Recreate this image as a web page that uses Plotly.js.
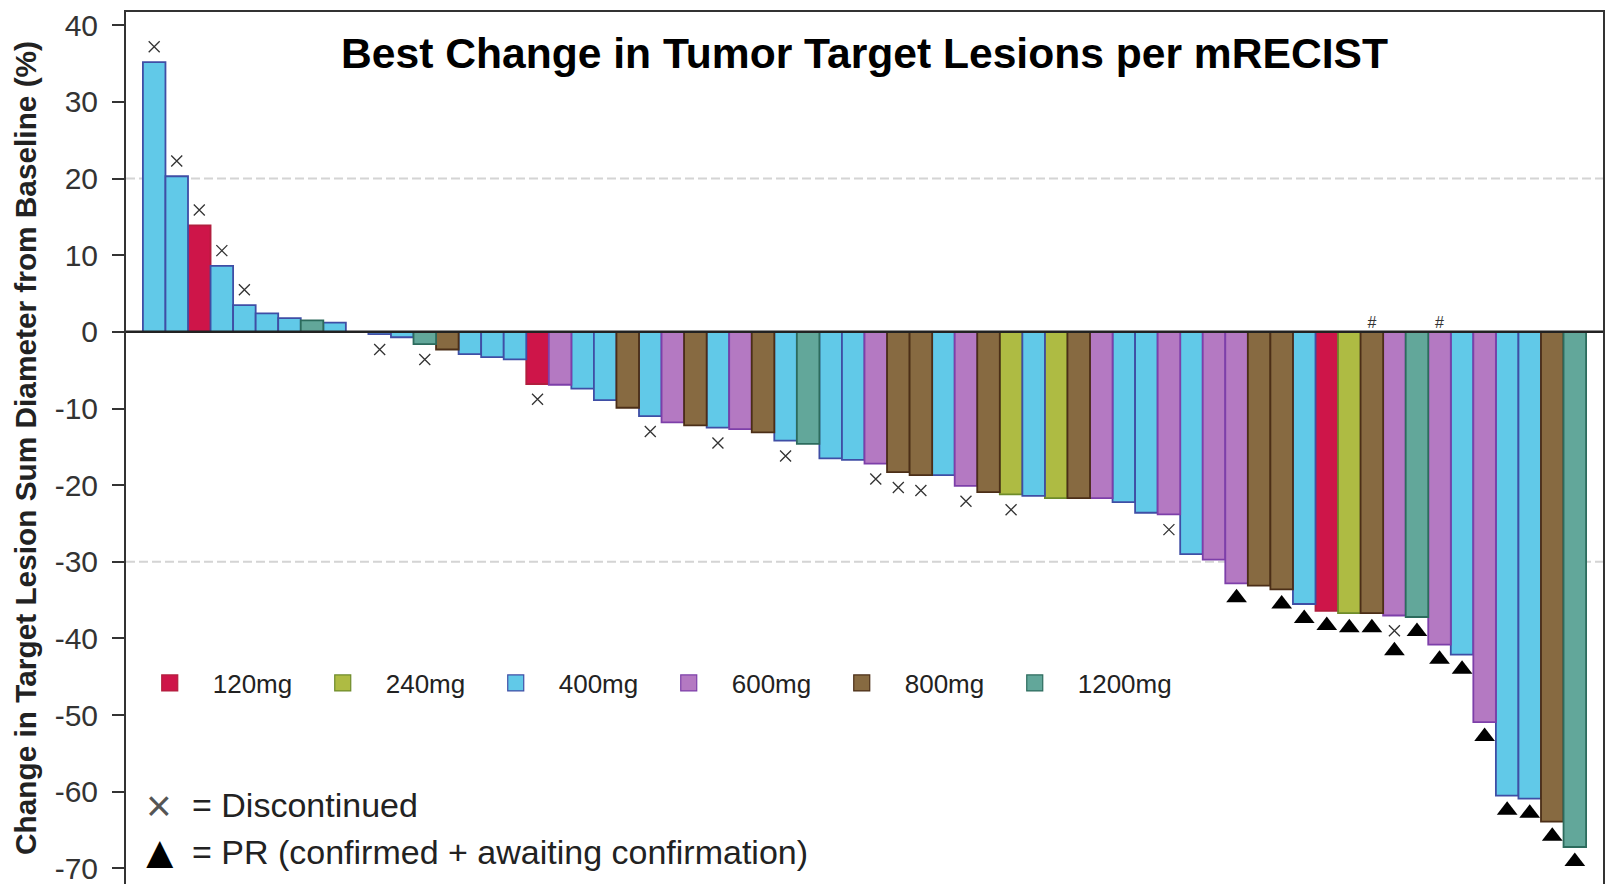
<!DOCTYPE html>
<html><head><meta charset="utf-8">
<script src="https://cdn.plot.ly/plotly-3.0.1.min.js"></script>
<style>html,body{margin:0;padding:0;background:#fff;} #chart{width:1611px;height:884px;}</style>
</head><body><div id="chart"></div>
<script>
// ---- data ----
const doseLevels = [120, 240, 400, 600, 800, 1200];
const doseLabels = ['120mg', '240mg', '400mg', '600mg', '800mg', '1200mg'];
const doseFill = ['#CE1549', '#AEBB43', '#61C9E8', '#B479C2', '#876A41', '#62A79A'];
const doseLine = ['#B21E3E', '#6E8B2A', '#3F4EA5', '#7D3FA9', '#4B2E17', '#2C6B5D'];

// best % change per patient, sorted (rank 1..64)
const change = [35.2, 20.3, 13.9, 8.6, 3.5, 2.4, 1.8, 1.5, 1.2, 0,
  -0.3, -0.7, -1.6, -2.3, -2.9, -3.3, -3.6, -6.8, -6.9, -7.4,
  -8.9, -9.9, -11.0, -11.8, -12.2, -12.5, -12.7, -13.1, -14.2, -14.6,
  -16.5, -16.7, -17.2, -18.3, -18.7, -18.7, -20.1, -20.9, -21.2, -21.4,
  -21.7, -21.7, -21.7, -22.2, -23.6, -23.8, -29.0, -29.7, -32.8, -33.1,
  -33.6, -35.5, -36.4, -36.7, -36.7, -37.0, -37.2, -40.8, -42.1, -50.9,
  -60.5, -60.9, -63.9, -67.2];
const dose = [400, 400, 120, 400, 400, 400, 400, 1200, 400, 400,
  400, 400, 1200, 800, 400, 400, 400, 120, 600, 400,
  400, 800, 400, 600, 800, 400, 600, 800, 400, 1200,
  400, 400, 600, 800, 800, 400, 600, 800, 240, 400,
  240, 800, 600, 400, 400, 600, 400, 600, 600, 800,
  800, 400, 120, 240, 800, 600, 1200, 600, 400, 600,
  400, 400, 800, 1200];
const discontinuedRanks = [1, 2, 3, 4, 5, 11, 13, 18, 23, 26, 29, 33, 34, 35, 37, 39, 46, 56];
const prRanks = [49, 51, 52, 53, 54, 55, 56, 57, 58, 59, 60, 61, 62, 63, 64];
const hashRanks = [55, 58];
const yTickVals = [-70, -60, -50, -40, -30, -20, -10, 0, 10, 20, 30, 40];
const yTickText = ['-70', '-60', '-50', '-40', '-30', '-20', '-10', '0', '10', '20', '30', '40'];

// ---- traces ----
const rank = change.map((_, i) => i + 1);
const FONT = 'Arial, "Liberation Sans", Helvetica, sans-serif';
const traces = [];
doseLevels.forEach((d, k) => {
  const xs = [], ys = [];
  rank.forEach((r, i) => { if (dose[i] === d) { xs.push(r); ys.push(change[i]); } });
  traces.push({
    type: 'bar', x: xs, y: ys, width: 1, showlegend: false, legendgroup: doseLabels[k],
    marker: { color: doseFill[k], line: { color: doseLine[k], width: 1.8 } },
    hoverinfo: 'x+y'
  });
});
doseLevels.forEach((d, k) => {
  traces.push({
    type: 'scatter', mode: 'markers', x: [null], y: [null], name: doseLabels[k],
    legendgroup: doseLabels[k], showlegend: true,
    marker: { symbol: 'square', size: 16, color: doseFill[k], line: { color: doseLine[k], width: 1.2 } }
  });
});
// invisible spacer entry so the last legend label is not clipped
traces.push({
  type: 'scatter', mode: 'markers', x: [null], y: [null], name: ' ', showlegend: true,
  hoverinfo: 'skip', marker: { size: 1, color: 'rgba(0,0,0,0)' }
});
const OFF = 2.0;
traces.push({
  type: 'scatter', mode: 'markers', showlegend: false,
  x: discontinuedRanks,
  y: discontinuedRanks.map(r => { const v = change[r - 1]; return v >= 0 ? v + OFF : v - OFF; }),
  marker: { symbol: 'x-thin', size: 11, line: { color: '#333', width: 1.3 } }
});
traces.push({
  type: 'scatter', mode: 'markers', showlegend: false,
  x: prRanks,
  y: prRanks.map(r => change[r - 1] - (discontinuedRanks.includes(r) ? 4.6 : 1.9)),
  marker: { symbol: 'triangle-up', size: 18, color: '#000' }
});
traces.push({
  type: 'scatter', mode: 'text', showlegend: false,
  x: hashRanks, y: hashRanks.map(() => 0), text: hashRanks.map(() => '#'),
  textposition: 'top center', textfont: { size: 16, color: '#333', family: FONT }
});

// ---- layout ----
const L = 126, R = 1603, T = 11.7, B = 884;
const px = v => (v - L) / (R - L);
const py = v => (B - v) / (B - T);

const layout = {
  width: 1611, height: 884,
  margin: { l: L, r: 1611 - R, t: T, b: 0, pad: 0 },
  paper_bgcolor: '#fff', plot_bgcolor: '#fff',
  font: { family: FONT, color: '#222' },
  barmode: 'overlay',
  title: {
    text: '<b>Best Change in Tumor Target Lesions per mRECIST</b>',
    font: { size: 42.6, color: '#000', family: FONT },
    x: 0.5, xref: 'paper', xanchor: 'center',
    y: 1 - 53 / 884, yref: 'container', yanchor: 'middle'
  },
  xaxis: {
    range: [-0.25, 65.25], showticklabels: false, ticks: '', showgrid: false, zeroline: false,
    showline: true, linecolor: '#333', linewidth: 2, mirror: true
  },
  yaxis: {
    range: [-72.03, 41.73], tickvals: yTickVals, ticktext: yTickText,
    ticks: 'outside', ticklen: 12, tickwidth: 2, tickcolor: '#333',
    showline: true, linecolor: '#333', linewidth: 2, mirror: true,
    showgrid: false, zeroline: false,
    tickfont: { size: 30, color: '#333', family: FONT },
    ticklabelstandoff: 8, ticklabeloverflow: 'allow',
    title: {
      text: '<b>Change in Target Lesion Sum Diameter from Baseline (%)</b>',
      font: { size: 29.8, color: '#222', family: FONT }, standoff: 9
    }
  },
  shapes: [
    { type: 'line', xref: 'paper', x0: 0, x1: 1, yref: 'y', y0: 20, y1: 20, layer: 'below',
      line: { color: '#d4d4d4', width: 2, dash: '9px,4px' } },
    { type: 'line', xref: 'paper', x0: 0, x1: 1, yref: 'y', y0: -30, y1: -30, layer: 'below',
      line: { color: '#d4d4d4', width: 2, dash: '9px,4px' } },
    { type: 'line', xref: 'paper', x0: 0, x1: 1, yref: 'y', y0: 0, y1: 0, layer: 'above',
      line: { color: '#222', width: 2.5 } }
  ],
  legend: {
    orientation: 'h', x: 0.0005, xanchor: 'left', y: py(683), yanchor: 'middle',
    font: { size: 26, color: '#222', family: FONT }, bgcolor: 'rgba(0,0,0,0)',
    itemwidth: 76, entrywidth: 82, entrywidthmode: 'pixels', itemclick: false, itemdoubleclick: false
  },
  annotations: [
    { xref: 'paper', yref: 'paper', x: px(159), y: py(805), xanchor: 'center', yanchor: 'middle',
      text: '×', showarrow: false, font: { size: 44, color: '#555', family: FONT } },
    { xref: 'paper', yref: 'paper', x: px(190), y: py(805), xanchor: 'left', yanchor: 'middle',
      text: '= Discontinued', showarrow: false, font: { size: 34, color: '#222', family: FONT } },
    { xref: 'paper', yref: 'paper', x: px(160), y: py(852), xanchor: 'center', yanchor: 'middle',
      text: '▲', showarrow: false, font: { size: 46, color: '#000', family: FONT } },
    { xref: 'paper', yref: 'paper', x: px(190), y: py(852), xanchor: 'left', yanchor: 'middle',
      text: '= PR (confirmed + awaiting confirmation)', showarrow: false, font: { size: 34, color: '#222', family: FONT } }
  ]
};

Plotly.newPlot('chart', traces, layout, { displayModeBar: false, responsive: false });
</script>
</body></html>
